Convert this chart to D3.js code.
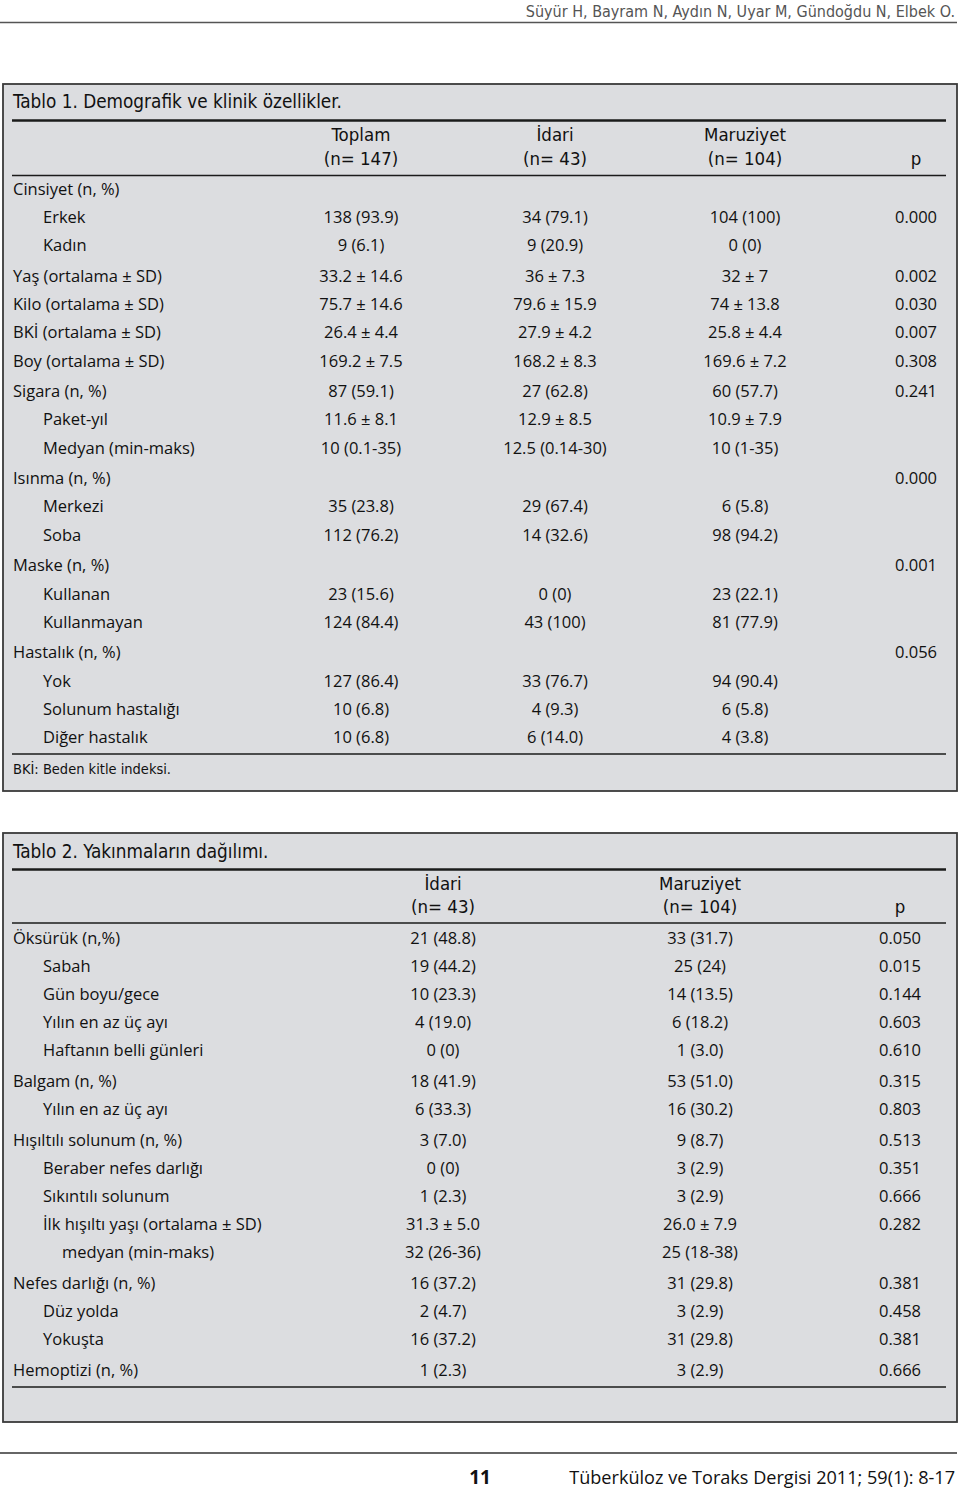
<!DOCTYPE html>
<html><head><meta charset="utf-8">
<script src="https://cdn.jsdelivr.net/npm/d3@7"></script>
<style>
html,body{margin:0;padding:0;background:#fff;}
.body{font-family:"Open Sans","Noto Sans",sans-serif;font-size:16.5px;fill:#111;}
.cond{font-family:"Liberation Sans Narrow","DejaVu Sans Condensed","Roboto Condensed",sans-serif;fill:#111;}
</style></head>
<body>
<script>
// ---------- Data ----------
const runningHead = "Süyür H, Bayram N, Aydın N, Uyar M, Gündoğdu N, Elbek O.";
const footerPage = "11";
const footerJournal = "Tüberküloz ve Toraks Dergisi 2011; 59(1): 8-17";

const t1Title = "Tablo 1. Demografik ve klinik özellikler.";
const t1Columns = ["Toplam", "İdari", "Maruziyet"];
const t1ColumnN = ["(n= 147)", "(n= 43)", "(n= 104)"];
const t1Labels = ["Cinsiyet (n, %)", "Erkek", "Kadın", "Yaş (ortalama ± SD)", "Kilo (ortalama ± SD)", "BKİ (ortalama ± SD)", "Boy (ortalama ± SD)", "Sigara (n, %)", "Paket-yıl", "Medyan (min-maks)", "Isınma (n, %)", "Merkezi", "Soba", "Maske (n, %)", "Kullanan", "Kullanmayan", "Hastalık (n, %)", "Yok", "Solunum hastalığı", "Diğer hastalık"];
const t1Level = [0,1,1,0,0,0,0,0,1,1,0,1,1,0,1,1,0,1,1,1];
const t1Section = [0,0,0,1,1,1,1,2,2,2,3,3,3,4,4,4,5,5,5,5];
const t1Toplam = ["", "138 (93.9)", "9 (6.1)", "33.2 ± 14.6", "75.7 ± 14.6", "26.4 ± 4.4", "169.2 ± 7.5", "87 (59.1)", "11.6 ± 8.1", "10 (0.1-35)", "", "35 (23.8)", "112 (76.2)", "", "23 (15.6)", "124 (84.4)", "", "127 (86.4)", "10 (6.8)", "10 (6.8)"];
const t1Idari = ["", "34 (79.1)", "9 (20.9)", "36 ± 7.3", "79.6 ± 15.9", "27.9 ± 4.2", "168.2 ± 8.3", "27 (62.8)", "12.9 ± 8.5", "12.5 (0.14-30)", "", "29 (67.4)", "14 (32.6)", "", "0 (0)", "43 (100)", "", "33 (76.7)", "4 (9.3)", "6 (14.0)"];
const t1Maruziyet = ["", "104 (100)", "0 (0)", "32 ± 7", "74 ± 13.8", "25.8 ± 4.4", "169.6 ± 7.2", "60 (57.7)", "10.9 ± 7.9", "10 (1-35)", "", "6 (5.8)", "98 (94.2)", "", "23 (22.1)", "81 (77.9)", "", "94 (90.4)", "6 (5.8)", "4 (3.8)"];
const t1P = ["", "0.000", "", "0.002", "0.030", "0.007", "0.308", "0.241", "", "", "0.000", "", "", "0.001", "", "", "0.056", "", "", ""];
const t1Note = "BKİ: Beden kitle indeksi.";

const t2Title = "Tablo 2. Yakınmaların dağılımı.";
const t2Columns = ["İdari", "Maruziyet"];
const t2ColumnN = ["(n= 43)", "(n= 104)"];
const t2Labels = ["Öksürük (n,%)", "Sabah", "Gün boyu/gece", "Yılın en az üç ayı", "Haftanın belli günleri", "Balgam (n, %)", "Yılın en az üç ayı", "Hışıltılı solunum (n, %)", "Beraber nefes darlığı", "Sıkıntılı solunum", "İlk hışıltı yaşı (ortalama ± SD)", "medyan (min-maks)", "Nefes darlığı (n, %)", "Düz yolda", "Yokuşta", "Hemoptizi (n, %)"];
const t2Level = [0,1,1,1,1,0,1,0,1,1,1,2,0,1,1,0];
const t2Section = [0,0,0,0,0,1,1,2,2,2,2,2,3,3,3,4];
const t2Idari = ["21 (48.8)", "19 (44.2)", "10 (23.3)", "4 (19.0)", "0 (0)", "18 (41.9)", "6 (33.3)", "3 (7.0)", "0 (0)", "1 (2.3)", "31.3 ± 5.0", "32 (26-36)", "16 (37.2)", "2 (4.7)", "16 (37.2)", "1 (2.3)"];
const t2Maruziyet = ["33 (31.7)", "25 (24)", "14 (13.5)", "6 (18.2)", "1 (3.0)", "53 (51.0)", "16 (30.2)", "9 (8.7)", "3 (2.9)", "3 (2.9)", "26.0 ± 7.9", "25 (18-38)", "31 (29.8)", "3 (2.9)", "31 (29.8)", "3 (2.9)"];
const t2P = ["0.050", "0.015", "0.144", "0.603", "0.610", "0.315", "0.803", "0.513", "0.351", "0.666", "0.282", "", "0.381", "0.458", "0.381", "0.666"];

// ---------- Layout ----------
const W = 960, H = 1490;
const svg = d3.select("body").append("svg").attr("width", W).attr("height", H);
svg.append("rect").attr("width", W).attr("height", H).attr("fill", "#fff");

const BOX_FILL = "#dcdde0", BOX_STROKE = "#3a3a3a", INK = "#1b1b1b";

// running head
svg.append("text").attr("class", "cond").attr("x", 955).attr("y", 17)
  .attr("text-anchor", "end").style("font-size", "16px").style("fill", "#555").text(runningHead);
svg.append("line").attr("x1", 0).attr("x2", 957).attr("y1", 22.5).attr("y2", 22.5)
  .attr("stroke", "#555").attr("stroke-width", 1.3);

const levelX = d3.scaleOrdinal().domain([0,1,2]).range([13, 43, 62]);

function rowScale(sections, y0, step, gap) {
  let gaps = 0;
  const pos = sections.map((s, i) => {
    if (i > 0 && s !== sections[i-1]) gaps++;
    return i + gaps * gap / step;
  });
  const y = d3.scaleLinear().domain([0, 1]).range([y0, y0 + step]);
  return i => y(pos[i]);
}

function drawTable(cfg) {
  const g = svg.append("g");
  g.append("rect").attr("x", cfg.box[0]).attr("y", cfg.box[1])
    .attr("width", cfg.box[2] - cfg.box[0]).attr("height", cfg.box[3] - cfg.box[1])
    .attr("fill", BOX_FILL).attr("stroke", BOX_STROKE).attr("stroke-width", 1.8);
  g.append("text").attr("class", "cond").attr("x", 13).attr("y", cfg.titleY)
    .style("font-size", "18.8px").text(cfg.title);
  g.append("line").attr("x1", 12).attr("x2", 946).attr("y1", cfg.thickY).attr("y2", cfg.thickY)
    .attr("stroke", INK).attr("stroke-width", 2.6);
  const colX = d3.scaleOrdinal().domain(cfg.colKeys).range(cfg.colPos);
  cfg.colKeys.forEach((k, ci) => {
    if (ci < cfg.headers.length) {
      g.append("text").attr("class", "cond").attr("x", colX(k)).attr("y", cfg.headY[0] + 6)
        .attr("text-anchor", "middle").style("font-size", "18.5px").text(cfg.headers[ci]);
      g.append("text").attr("class", "cond").attr("x", colX(k)).attr("y", cfg.headY[1] + 6)
        .attr("text-anchor", "middle").style("font-size", "18.5px").text(cfg.headerN[ci]);
    } else {
      g.append("text").attr("class", "cond").attr("x", colX(k)).attr("y", cfg.headY[1] + 6)
        .attr("text-anchor", "middle").style("font-size", "18.5px").text("p");
    }
  });
  g.append("line").attr("x1", 12).attr("x2", 946).attr("y1", cfg.thinY).attr("y2", cfg.thinY)
    .attr("stroke", INK).attr("stroke-width", 1.4);
  g.append("line").attr("x1", 12).attr("x2", 946).attr("y1", cfg.bottomY).attr("y2", cfg.bottomY)
    .attr("stroke", INK).attr("stroke-width", 1.4);

  const y = rowScale(cfg.sections, cfg.rowY0, cfg.step, cfg.gap);
  const rows = cfg.labels.map((l, i) => ({ i, label: l, level: cfg.levels[i] }));
  g.selectAll("text.lab").data(rows).join("text").attr("class", "body lab")
    .attr("x", d => levelX(d.level)).attr("y", d => y(d.i)).attr("dy", "0.36em").text(d => d.label);
  cfg.colKeys.forEach((k, ci) => {
    const vals = cfg.values[ci];
    g.selectAll("text.c" + ci).data(vals.map((v, i) => ({ v, i })).filter(d => d.v !== ""))
      .join("text").attr("class", "body c" + ci)
      .attr("x", colX(k)).attr("y", d => y(d.i)).attr("dy", "0.36em")
      .attr("text-anchor", "middle").text(d => d.v);
  });
  if (cfg.note) {
    g.append("text").attr("class", "cond").attr("x", 13).attr("y", cfg.noteY + 5)
      .style("font-size", "14.5px").text(cfg.note);
  }
}

drawTable({
  box: [3, 84, 957, 791], title: t1Title, titleY: 108, thickY: 120.5, thinY: 175.5, bottomY: 754,
  headers: t1Columns, headerN: t1ColumnN, headY: [135, 159],
  colKeys: ["toplam", "idari", "maruziyet", "p"], colPos: [361, 555, 745, 916],
  labels: t1Labels, levels: t1Level, sections: t1Section,
  values: [t1Toplam, t1Idari, t1Maruziyet, t1P],
  rowY0: 189, step: 28.2, gap: 2.44, note: t1Note, noteY: 769
});

drawTable({
  box: [3, 833, 957, 1422], title: t2Title, titleY: 858, thickY: 869.5, thinY: 923, bottomY: 1387,
  headers: t2Columns, headerN: t2ColumnN, headY: [884, 907],
  colKeys: ["idari", "maruziyet", "p"], colPos: [443, 700, 900],
  labels: t2Labels, levels: t2Level, sections: t2Section,
  values: [t2Idari, t2Maruziyet, t2P],
  rowY0: 938, step: 28, gap: 3
});

// footer
svg.append("line").attr("x1", 0).attr("x2", 957).attr("y1", 1453).attr("y2", 1453)
  .attr("stroke", "#333").attr("stroke-width", 1.5);
svg.append("text").attr("class", "body").attr("x", 480).attr("y", 1484).attr("text-anchor", "middle")
  .style("font-size", "19px").style("font-weight", "bold").text(footerPage);
svg.append("text").attr("class", "body").attr("x", 955).attr("y", 1484).attr("text-anchor", "end")
  .style("font-size", "18.1px").text(footerJournal);
</script>
</body></html>
